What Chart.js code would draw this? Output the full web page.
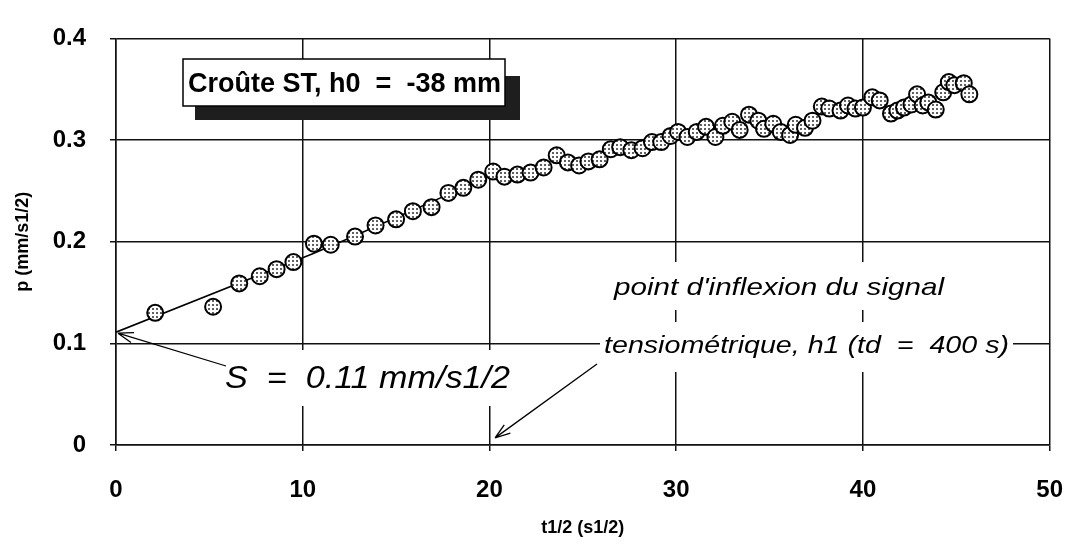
<!DOCTYPE html>
<html>
<head>
<meta charset="utf-8">
<script src="https://cdn.jsdelivr.net/npm/chart.js@4.4.0/dist/chart.umd.min.js"></script>
<style>
  html, body { margin: 0; padding: 0; background: #fff; }
  #wrap { width: 1088px; height: 547px; }
</style>
</head>
<body>
<div id="wrap"><canvas id="chart" width="1088" height="547"></canvas></div>
<script>
// Mesures : t1/2 (s1/2) et p (mm/s1/2)
const tValues = [2.1, 5.2, 6.6, 7.7, 8.6, 9.5, 10.6, 11.5, 12.8, 13.9, 15.0, 15.9, 16.9, 17.8, 18.6, 19.4,
  20.2, 20.8, 21.5, 22.2, 22.9, 23.6, 24.2, 24.8, 25.3, 25.9, 26.5, 27.0, 27.6, 28.2, 28.7, 29.2, 29.7,
  30.1, 30.6, 31.1, 31.6, 32.1, 32.5, 33.0, 33.4, 33.9, 34.4, 34.7, 35.2, 35.6, 36.1, 36.4, 36.9, 37.3,
  37.8, 38.2, 38.8, 39.2, 39.6, 40.0, 40.5, 40.9, 41.5, 41.85, 42.2, 42.6, 42.9, 43.2, 43.5, 43.9, 44.3,
  44.6, 44.9, 45.4, 45.7];
const pValues = [0.130, 0.136, 0.159, 0.166, 0.173, 0.180, 0.198, 0.197, 0.205, 0.216, 0.222, 0.230, 0.234, 0.248, 0.253, 0.261,
  0.269, 0.264, 0.266, 0.268, 0.273, 0.285, 0.278, 0.275, 0.279, 0.281, 0.291, 0.293, 0.290, 0.292, 0.298, 0.298, 0.304,
  0.308, 0.303, 0.308, 0.313, 0.303, 0.314, 0.318, 0.310, 0.325, 0.319, 0.311, 0.316, 0.308, 0.305, 0.315, 0.312, 0.319,
  0.333, 0.331, 0.329, 0.334, 0.331, 0.332, 0.342, 0.339, 0.326, 0.329, 0.332, 0.335, 0.345, 0.334, 0.337, 0.330, 0.347,
  0.357, 0.354, 0.356, 0.345];

// droite de depart (sorptivite)
const fitT = [0, 10.5, 12.3, 20.2];
const fitP = [0.111, 0.188, 0.202, 0.266];

const xTicks = [0, 10, 20, 30, 40, 50];
const yTicks = [0, 0.1, 0.2, 0.3, 0.4];

const FONT = "'Liberation Sans', Arial, sans-serif";

// remplissage pointille des marqueurs
function dotPattern(ctx) {
  const c = document.createElement('canvas');
  c.width = 4; c.height = 4;
  const g = c.getContext('2d');
  g.fillStyle = '#ffffff';
  g.fillRect(0, 0, 4, 4);
  g.fillStyle = '#606060';
  g.fillRect(0, 0, 2, 2);
  return ctx.createPattern(c, 'repeat');
}

function arrow(ctx, x1, y1, x2, y2) {
  ctx.beginPath();
  ctx.moveTo(x1, y1);
  ctx.lineTo(x2, y2);
  const a = Math.atan2(y2 - y1, x2 - x1);
  const len = 16, spread = 0.33;
  ctx.moveTo(x2, y2);
  ctx.lineTo(x2 - len * Math.cos(a - spread), y2 - len * Math.sin(a - spread));
  ctx.moveTo(x2, y2);
  ctx.lineTo(x2 - len * Math.cos(a + spread), y2 - len * Math.sin(a + spread));
  ctx.stroke();
}

// texte etire a une largeur donnee
function fitText(ctx, text, x, y, width) {
  const w = ctx.measureText(text).width;
  ctx.save();
  ctx.translate(x, y);
  ctx.scale(width / w, 1);
  ctx.fillText(text, 0, 0);
  ctx.restore();
}

const notesPlugin = {
  id: 'notes',
  afterDraw(chart) {
    const { ctx, scales: { x, y } } = chart;
    ctx.save();

    // encadre avec ombre
    ctx.fillStyle = '#1e1e1e';
    ctx.fillRect(195, 76, 325, 44);
    ctx.fillStyle = '#ffffff';
    ctx.fillRect(183, 59, 322, 47);
    ctx.strokeStyle = '#000';
    ctx.lineWidth = 1.5;
    ctx.strokeRect(183, 59, 322, 47);
    ctx.fillStyle = '#000';
    ctx.font = 'bold 28px ' + FONT;
    ctx.textBaseline = 'middle';
    ctx.textAlign = 'left';
    fitText(ctx, 'Croûte ST, h0  =  -38 mm', 188, 84, 313);

    // S = 0.11
    ctx.fillStyle = '#fff';
    ctx.fillRect(214, 350, 302, 56);
    ctx.fillStyle = '#000';
    ctx.font = 'italic 32px ' + FONT;
    fitText(ctx, 'S  =  0.11 mm/s1/2', 225, 379, 285);
    ctx.lineWidth = 1.3;
    arrow(ctx, 226, 366, x.getPixelForValue(0) + 2, y.getPixelForValue(0.11));

    // point d'inflexion
    ctx.fillStyle = '#fff';
    ctx.fillRect(608, 262, 345, 48);
    ctx.fillRect(600, 322, 413, 50);
    ctx.fillStyle = '#000';
    ctx.font = 'italic 24px ' + FONT;
    fitText(ctx, "point d'inflexion du signal", 614, 288, 330);
    fitText(ctx, 'tensiométrique, h1 (td  =  400 s)', 604, 346, 405);
    arrow(ctx, 597, 364, x.getPixelForValue(20.3), y.getPixelForValue(0.007));

    ctx.restore();
  }
};

const canvas = document.getElementById('chart');
const ctx = canvas.getContext('2d');

const scatterData = tValues.map((t, i) => ({ x: t, y: pValues[i] }));
const fitData = fitT.map((t, i) => ({ x: t, y: fitP[i] }));

new Chart(ctx, {
  type: 'scatter',
  data: {
    datasets: [
      {
        label: 'p',
        data: scatterData,
        pointRadius: 8,
        pointHoverRadius: 8,
        pointBackgroundColor: dotPattern(ctx),
        pointBorderColor: '#000',
        pointBorderWidth: 2,
        showLine: false
      },
      {
        label: 'S',
        data: fitData,
        showLine: true,
        borderColor: '#000',
        borderWidth: 1.6,
        pointRadius: 0,
        fill: false
      }
    ]
  },
  options: {
    responsive: false,
    animation: false,
    layout: { padding: { top: 23, right: 21, left: 0, bottom: 0 } },
    plugins: {
      legend: { display: false },
      tooltip: { enabled: false }
    },
    scales: {
      x: {
        type: 'linear',
        min: 0, max: 50,
        afterBuildTicks: s => { s.ticks = xTicks.map(v => ({ value: v })); },
        afterFit: s => { s.height = 102; },
        grid: { color: '#111', lineWidth: 1.5, tickLength: 6, drawTicks: true },
        border: { color: '#111', width: 1.5 },
        ticks: {
          color: '#000',
          padding: 25,
          maxRotation: 0,
          font: { family: FONT, size: 24, weight: 'bold' }
        },
        title: {
          display: true,
          text: 't1/2 (s1/2)',
          color: '#000',
          padding: { top: 0, bottom: 8 },
          font: { family: FONT, size: 18, weight: 'bold' }
        }
      },
      y: {
        type: 'linear',
        min: 0, max: 0.4,
        afterBuildTicks: s => { s.ticks = yTicks.map(v => ({ value: v })); },
        afterFit: s => { s.width = 116; },
        grid: { color: '#111', lineWidth: 1.5, tickLength: 6, drawTicks: true },
        border: { color: '#111', width: 1.5 },
        ticks: {
          color: '#000',
          padding: 24,
          callback: v => v === 0 ? '0' : v.toFixed(1),
          font: { family: FONT, size: 24, weight: 'bold' }
        },
        title: {
          display: true,
          text: 'p (mm/s1/2)',
          color: '#000',
          padding: { top: 12, bottom: 0 },
          font: { family: FONT, size: 18, weight: 'bold' }
        }
      }
    }
  },
  plugins: [notesPlugin]
});
</script>
</body>
</html>
